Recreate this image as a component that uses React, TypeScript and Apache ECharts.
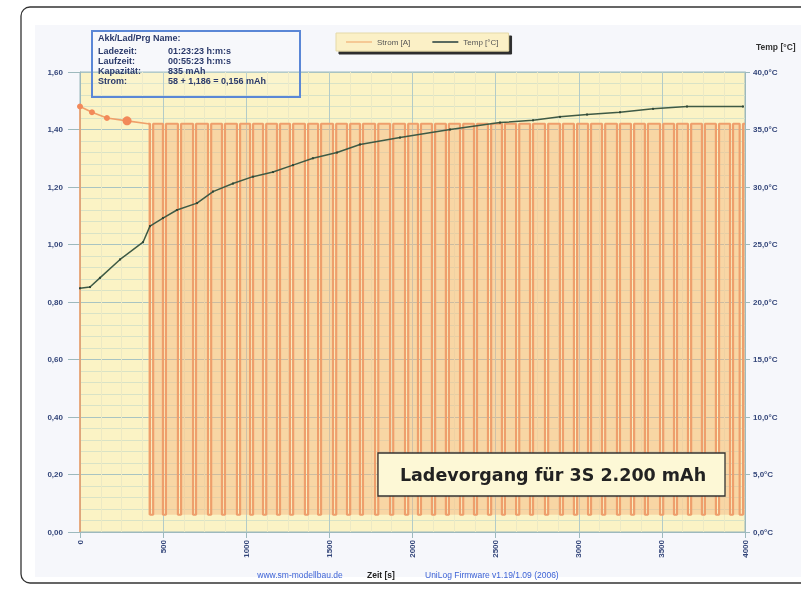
import React, { useEffect, useRef } from "react";
import * as echarts from "echarts";

// ---- data ----
const initTime = [0, 0, 72, 162, 283, 409];
const initCurrent = [0, 1.48, 1.46, 1.44, 1.43, 1.42];

const onCurrent = 1.42;
const offCurrent = 0.06;
const pulseBegin = 409;
const pulseEndTime = 4000;
const pauseStart = [421, 499, 589, 680, 770, 854, 944, 1023, 1101, 1185, 1263, 1353, 1432, 1522, 1606, 1684, 1775, 1865, 1955, 2033, 2117, 2201, 2286, 2370, 2454, 2538, 2623, 2707, 2797, 2887, 2971, 3056, 3140, 3230, 3314, 3398, 3489, 3573, 3657, 3741, 3825, 3910, 3968];
const pauseEnd = [440, 517, 608, 698, 789, 872, 963, 1041, 1120, 1203, 1282, 1372, 1450, 1541, 1625, 1702, 1794, 1884, 1974, 2051, 2136, 2219, 2305, 2388, 2473, 2556, 2642, 2725, 2816, 2905, 2990, 3074, 3159, 3248, 3333, 3416, 3508, 3591, 3676, 3759, 3844, 3928, 3988];

const tempTime = [0, 60, 120, 241, 379, 421, 499, 583, 704, 800, 920, 1040, 1161, 1281, 1401, 1546, 1684, 1925, 2226, 2526, 2725, 2887, 3050, 3248, 3447, 3651, 3988];
const tempValue = [21.2, 21.3, 22.1, 23.7, 25.2, 26.6, 27.3, 28.0, 28.6, 29.6, 30.3, 30.9, 31.3, 31.9, 32.5, 33.0, 33.7, 34.3, 35.0, 35.6, 35.8, 36.1, 36.3, 36.5, 36.8, 37.0, 37.0];

const infoLabels = ["Akk/Lad/Prg Name:", "Ladezeit:", "Laufzeit:", "Kapazität:", "Strom:"];
const infoValues = ["", "01:23:23 h:m:s", "00:55:23 h:m:s", "835 mAh", "58 + 1,186 = 0,156 mAh"];

const seriesNames = ["Strom [A]", "Temp [°C]"];
const xAxisName = "Zeit [s]";
const siteText = "www.sm-modellbau.de";
const firmwareText = "UniLog Firmware v1.19/1.09 (2006)";
const noteText = "Ladevorgang für 3S 2.200 mAh";

export default function App() {
  const ref = useRef<HTMLDivElement>(null);
  useEffect(() => {
    if (!ref.current) return;
    const chart = echarts.init(ref.current, undefined, { renderer: "svg" });

    const initData = initTime.map((t, i) => [t, initCurrent[i]]);
    const pulseData: number[][] = [[pulseBegin, onCurrent]];
    pauseStart.forEach((s, i) => {
      pulseData.push([s, onCurrent], [s, offCurrent], [pauseEnd[i], offCurrent], [pauseEnd[i], onCurrent]);
    });
    if (pauseEnd[pauseEnd.length - 1] < pulseEndTime) pulseData.push([pulseEndTime, onCurrent]);
    const tempData = tempTime.map((t, i) => [t, tempValue[i]]);

    const axisCol = "#9db9bd";
    const labelCol = "#34467a";
    const font = "Liberation Sans";

    const infoGraphics: any[] = [];
    const lineYs = [38, 51, 61, 71, 81];
    infoLabels.forEach((l, i) => {
      infoGraphics.push({
        type: "text", x: 98, y: lineYs[i], z: 101,
        style: { text: l, fill: "#2b3a6b", font: `bold 9px "${font}"`, textVerticalAlign: "middle" },
      });
      if (infoValues[i])
        infoGraphics.push({
          type: "text", x: 168, y: lineYs[i], z: 101,
          style: { text: infoValues[i], fill: "#2b3a6b", font: `bold 9px "${font}"`, textVerticalAlign: "middle" },
        });
    });

    chart.setOption({
      animation: false,
      textStyle: { fontFamily: font },
      grid: {
        left: 80, top: 72, width: 665, height: 460,
        show: true, backgroundColor: "#fbf3c5", borderColor: axisCol, borderWidth: 1,
      },
      legend: {
        left: 336, top: 33, padding: [5, 10, 5, 10],
        backgroundColor: "#fbf0c6", borderColor: "#e5d9a8", borderWidth: 1,
        shadowColor: "rgba(20,20,20,0.9)", shadowOffsetX: 3, shadowOffsetY: 3, shadowBlur: 0,
        icon: "rect", itemWidth: 26, itemHeight: 2, itemGap: 22,
        textStyle: { fontSize: 8, color: "#555", fontFamily: font },
        data: [
          { name: seriesNames[0], itemStyle: { color: "#f5c995" } },
          { name: seriesNames[1], itemStyle: { color: "#5a6a60" } },
        ],
      },
      xAxis: {
        type: "value", min: 0, max: 4000, interval: 500,
        axisLine: { show: true, lineStyle: { color: axisCol } },
        axisTick: { show: true, length: 6, lineStyle: { color: axisCol } },
        axisLabel: { rotate: 90, margin: 8, fontSize: 8, fontWeight: "bold", color: labelCol, formatter: (v: number) => String(v) },
        splitLine: { show: true, lineStyle: { color: "#b3cbc8" } },
        minorTick: { show: false, splitNumber: 4 },
        minorSplitLine: { show: true, lineStyle: { color: "#ece9c4" } },
      },
      yAxis: [
        {
          type: "value", min: 0, max: 1.6, interval: 0.2, position: "left",
          axisLine: { show: true, lineStyle: { color: axisCol } },
          axisTick: { show: true, length: 12, lineStyle: { color: axisCol } },
          axisLabel: {
            margin: 17, fontSize: 8, fontWeight: "bold", color: labelCol,
            formatter: (v: number) => v.toFixed(2).replace(".", ","),
          },
          splitLine: { show: true, lineStyle: { color: "#a9c4c2" } },
          minorTick: { show: false, splitNumber: 5 },
          minorSplitLine: { show: true, lineStyle: { color: "#d9e3c6" } },
        },
        {
          type: "value", min: 0, max: 40, interval: 5, position: "right",
          axisLine: { show: true, lineStyle: { color: axisCol } },
          axisTick: { show: true, length: 5, lineStyle: { color: axisCol } },
          axisLabel: {
            margin: 8, fontSize: 8, fontWeight: "bold", color: labelCol,
            formatter: (v: number) => v.toFixed(1).replace(".", ",") + "°C",
          },
          splitLine: { show: false },
        },
      ],
      series: [
        {
          name: seriesNames[0], type: "line", data: pulseData, z: 2,
          showSymbol: false, symbol: "none",
          lineStyle: { color: "#ee9f6c", width: 2.2 },
          itemStyle: { color: "#f5c995" },
          areaStyle: { origin: offCurrent, color: "#f4b47c", opacity: 0.45 },
        },
        {
          name: seriesNames[0], type: "line", data: initData, z: 3,
          symbol: "circle",
          symbolSize: (_v: any, p: any) => (p.dataIndex === 0 || p.dataIndex === initTime.length - 1 ? 0 : p.dataIndex === 4 ? 9 : 6),
          lineStyle: { color: "#efa06a", width: 1.6 },
          itemStyle: { color: "#f2895a" },
        },
        {
          name: seriesNames[1], type: "line", yAxisIndex: 1, data: tempData, z: 4,
          symbol: "rect", symbolSize: 2, showSymbol: true,
          lineStyle: { color: "#3e5a45", width: 1.5 },
          itemStyle: { color: "#2f4636" },
        },
      ],
      graphic: [
        { type: "rect", z: -10, shape: { x: 21, y: 7, width: 810, height: 576, r: 9 }, style: { fill: "#ffffff", stroke: "#333", lineWidth: 1.3 } },
        { type: "rect", z: -9, shape: { x: 35, y: 25, width: 780, height: 552 }, style: { fill: "#f6f7fb" } },
        { type: "rect", z: 100, shape: { x: 92, y: 31, width: 208, height: 66 }, style: { fill: "rgba(255,255,255,0.12)", stroke: "#5b87d6", lineWidth: 2 } },
        ...infoGraphics,
        {
          type: "group", z: 100,
          children: [
            { type: "rect", z: 100, shape: { x: 378, y: 453, width: 347, height: 43 }, style: { fill: "#fdf8d6", stroke: "#333", lineWidth: 1.3 } },
            {
              type: "text", z: 101, x: 553, y: 475,
              style: { text: noteText, fill: "#222", font: `bold 17.5px "DejaVu Sans"`, textAlign: "center", textVerticalAlign: "middle" },
            },
          ],
        },
        { type: "text", z: 50, x: 756, y: 47, style: { text: seriesNames[1], fill: "#333", font: `bold 8.5px "${font}"`, textVerticalAlign: "middle" } },
        { type: "text", z: 50, x: 300, y: 575, style: { text: siteText, fill: "#3d63d6", font: `8.5px "${font}"`, textAlign: "center", textVerticalAlign: "middle" } },
        { type: "text", z: 50, x: 381, y: 575, style: { text: xAxisName, fill: "#222", font: `bold 8.5px "${font}"`, textAlign: "center", textVerticalAlign: "middle" } },
        { type: "text", z: 50, x: 425, y: 575, style: { text: firmwareText, fill: "#3d63d6", font: `8.5px "${font}"`, textVerticalAlign: "middle" } },
      ],
    });
    return () => chart.dispose();
  }, []);
  return <div ref={ref} style={{ position: "fixed", left: 0, top: 0, width: 801, height: 592 }} />;
}
